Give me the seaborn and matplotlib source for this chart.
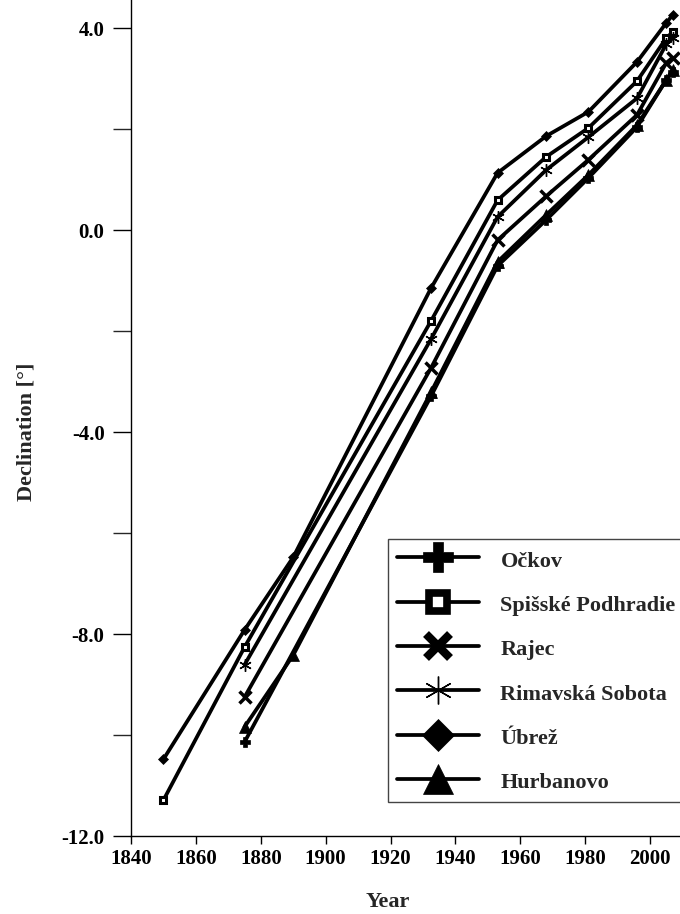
import matplotlib
matplotlib.use("Agg")
import matplotlib.pyplot as plt
from matplotlib.lines import Line2D
import seaborn as sns
import pandas as pd

# ---------------- data ----------------
stations = ["Očkov", "Spišské Podhradie", "Rajec", "Rimavská Sobota", "Úbrež", "Hurbanovo"]

ockov_years = [1875, 1932.5, 1953, 1968, 1981, 1996, 2005, 2007]
ockov_decl = [-10.14, -3.29, -0.71, 0.20, 1.03, 2.04, 2.97, 3.13]

spisske_years = [1850, 1875, 1932.5, 1953, 1968, 1981, 1996, 2005, 2007]
spisske_decl = [-11.29, -8.26, -1.80, 0.59, 1.45, 2.02, 2.95, 3.80, 3.92]

rajec_years = [1875, 1932.5, 1953, 1968, 1981, 1996, 2005, 2007]
rajec_decl = [-9.25, -2.73, -0.20, 0.67, 1.39, 2.28, 3.31, 3.41]

rimavska_years = [1875, 1932.5, 1953, 1968, 1981, 1996, 2005, 2007]
rimavska_decl = [-8.61, -2.16, 0.26, 1.19, 1.84, 2.61, 3.68, 3.80]

ubrez_years = [1850, 1875, 1890, 1932.5, 1953, 1968, 1981, 1996, 2005, 2007]
ubrez_decl = [-10.48, -7.92, -6.48, -1.15, 1.13, 1.86, 2.34, 3.33, 4.10, 4.26]

hurbanovo_years = [1875, 1890, 1932.5, 1953, 1968, 1981, 1996, 2005, 2007]
hurbanovo_decl = [-9.84, -8.42, -3.21, -0.63, 0.30, 1.09, 2.08, 2.97, 3.17]

x_ticks = [1840, 1860, 1880, 1900, 1920, 1940, 1960, 1980, 2000]
y_major = [4.0, 0.0, -4.0, -8.0, -12.0]
y_minor = [2.0, -2.0, -6.0, -10.0]

series = {
    "Očkov": (ockov_years, ockov_decl),
    "Spišské Podhradie": (spisske_years, spisske_decl),
    "Rajec": (rajec_years, rajec_decl),
    "Rimavská Sobota": (rimavska_years, rimavska_decl),
    "Úbrež": (ubrez_years, ubrez_decl),
    "Hurbanovo": (hurbanovo_years, hurbanovo_decl),
}

# ---------------- style ----------------
sns.set_style("ticks")
plt.rcParams["font.family"] = ["Liberation Serif", "DejaVu Serif"]
plt.rcParams["font.weight"] = "bold"
plt.rcParams["axes.labelweight"] = "bold"

LW = 2.7
plot_style = {
    "Očkov": dict(marker="P", ms=7.5, mfc="k", mec="k", mew=0.5),
    "Spišské Podhradie": dict(marker="s", ms=5, mfc="white", mec="k", mew=2.2),
    "Rajec": dict(marker="x", ms=9, mfc="k", mec="k", mew=2.5),
    "Rimavská Sobota": dict(marker=(6, 2, 0), ms=9, mfc="k", mec="k", mew=1.0),
    "Úbrež": dict(marker="D", ms=5.5, mfc="k", mec="k", mew=0.5),
    "Hurbanovo": dict(marker="^", ms=8, mfc="k", mec="k", mew=0.5),
}
legend_style = {
    "Očkov": dict(marker="P", ms=21, mfc="k", mec="k", mew=0.5),
    "Spišské Podhradie": dict(marker="s", ms=13, mfc="white", mec="k", mew=5.5),
    "Rajec": dict(marker="x", ms=17, mfc="k", mec="k", mew=6),
    "Rimavská Sobota": dict(marker=(6, 2, 0), ms=20, mfc="k", mec="k", mew=1.0),
    "Úbrež": dict(marker="D", ms=16, mfc="k", mec="k", mew=0.5),
    "Hurbanovo": dict(marker="^", ms=21, mfc="k", mec="k", mew=0.5),
}

W, H = 680, 914
fig = plt.figure(figsize=(W / 100, H / 100), dpi=100)

x0, x1 = 1840, 2012
y0, y1 = -12.0, 4.6
px_per_year = 3.244
px_per_unit = 50.5
left_px, bottom_px = 131, 914 - 836
ax_w = (x1 - x0) * px_per_year
ax_h = (y1 - y0) * px_per_unit
ax = fig.add_axes([left_px / W, bottom_px / H, ax_w / W, ax_h / H])

for name in stations:
    yrs, vals = series[name]
    df = pd.DataFrame({"Year": yrs, "Declination": vals})
    sns.lineplot(data=df, x="Year", y="Declination", ax=ax, color="k",
                 lw=LW, sort=False, estimator=None, legend=False,
                 **plot_style[name])

ax.set_xlim(x0, x1)
ax.set_ylim(y0, y1)
ax.set_xticks(x_ticks)
ax.set_xticklabels([str(t) for t in x_ticks])
ax.set_yticks(y_major)
ax.set_yticklabels([f"{v:.1f}" for v in y_major])
ax.set_yticks(y_minor, minor=True)

for s in ["top", "right"]:
    ax.spines[s].set_visible(False)
for s in ["left", "bottom"]:
    ax.spines[s].set_linewidth(1.0)
    ax.spines[s].set_color("black")

ax.tick_params(axis="x", which="major", direction="out", length=6, width=1,
               labelsize=15, colors="black", pad=3)
ax.tick_params(axis="y", which="major", direction="out", length=13, width=1,
               labelsize=15, colors="black", pad=6)
ax.tick_params(axis="y", which="minor", direction="out", length=13, width=1)
for lab in ax.get_xticklabels() + ax.get_yticklabels():
    lab.set_fontweight("bold")

ax.set_xlabel("Year", fontsize=16, fontweight="bold")
ax.set_ylabel("Declination [°]", fontsize=16, fontweight="bold")
ax.xaxis.set_label_coords((388 - left_px) / ax_w, (836 - 892) / ax_h)
ax.yaxis.set_label_coords((36 - left_px) / ax_w, (836 - 432) / ax_h)

handles = [Line2D([0], [0], color="k", lw=LW, **legend_style[n]) for n in stations]
leg = fig.legend(handles, stations, loc="upper left",
                 bbox_to_anchor=(388 / W, 1 - 539 / H), bbox_transform=fig.transFigure,
                 borderaxespad=0, frameon=True, fancybox=False, framealpha=1,
                 edgecolor="#444444", handlelength=3.7, handleheight=1.2,
                 handletextpad=0.96, labelspacing=0.92, borderpad=0.4,
                 prop={"weight": "bold", "size": 16})
leg.get_frame().set_linewidth(1.0)

fig.savefig("out.png", dpi=100)
